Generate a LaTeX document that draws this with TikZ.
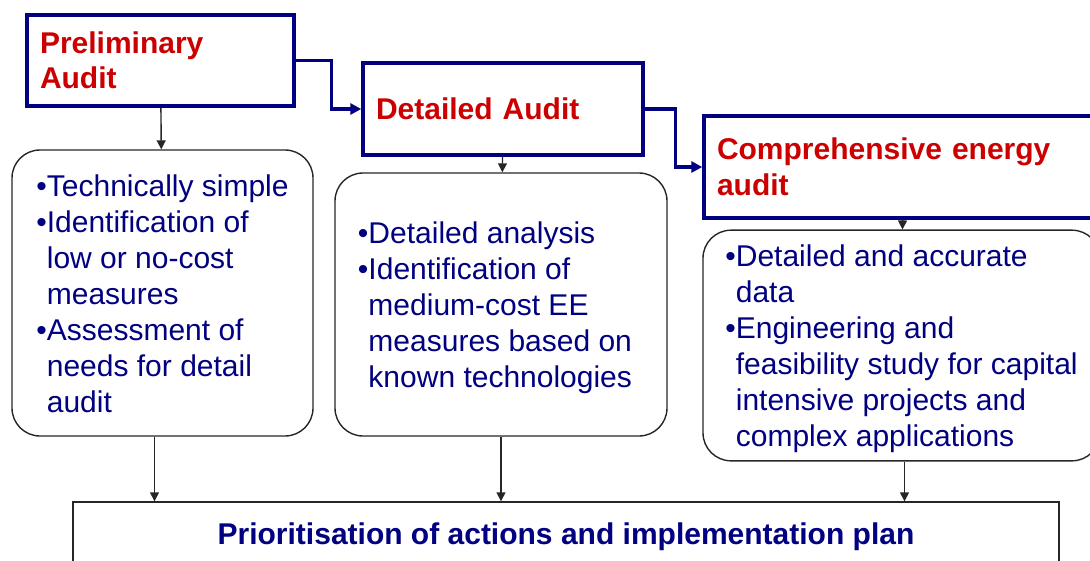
\documentclass[tikz,border=0pt]{standalone}
\usepackage{fontspec}
\setmainfont{Liberation Sans}
\usetikzlibrary{arrows.meta}
\definecolor{navy}{RGB}{0,0,128}
\definecolor{auditred}{RGB}{204,0,0}
\newcommand{\pt}{\textbullet\hspace{2pt}}
\begin{document}
\begin{tikzpicture}[x=1pt,y=-1pt,
        stage/.style={draw=navy,line width=3.4pt,fill=white,inner xsep=13pt,text=auditred,align=left,font=\fontsize{30}{35.5}\selectfont\bfseries},
        info/.style={draw=black!85,line width=1.4pt,rounded corners=28pt,text=navy,font=\fontsize{30}{36}\selectfont},
        flow/.style={navy,line width=3.4pt,-{Triangle[length=11pt,width=11pt]}},
        down/.style={black!85,line width=1.4pt,-{Triangle[length=9pt,width=9pt]}}]
        \useasboundingbox (0,0) rectangle (1090,560);
        \clip (0,0) rectangle (1090,560);
        % the three audit levels
        \node[stage,text width=241pt,minimum height=91pt] (prelim) at (160.5,60.5) {Preliminary\\Audit};
        \node[stage,text width=254pt,minimum height=92pt] (detailed) at (503,109) {Detailed Audit};
        \node[stage,text width=372pt,minimum height=102pt] (comp) at (903,167) {Comprehensive energy\\audit};
        \draw[flow] (prelim.east) -- ++(36,0) |- (detailed.west);
        \draw[flow] (detailed.east) -- ++(31,0) |- (comp.west);
        % what each level covers
        \node[info,minimum width=301pt,minimum height=286pt] (lbox) at (162.5,293) {\begin{tabular}{@{}l@{}l@{}}\noalign{\vskip8pt}
                \pt & Technically simple\\
                \pt & Identification of\\
                & low or no-cost\\
                & measures\\
                \pt & Assessment of\\
                & needs for detail\\
                & audit
            \end{tabular}};
        \node[info,minimum width=332pt,minimum height=263pt] (mbox) at (501,304.5) {\begin{tabular}{@{}l@{}l@{\hspace{12pt}}}\noalign{\vskip8pt}
                \pt & Detailed analysis\\
                \pt & Identification of\\
                & medium-cost EE\\
                & measures based on\\
                & known technologies
            \end{tabular}};
        \node[info,minimum width=397pt,minimum height=227pt] (rbox) at (901.5,345.5) {\begin{tabular}{@{}l@{}l@{}}\noalign{\vskip8pt}
                \pt & Detailed and accurate\\
                & data\\
                \pt & Engineering and\\
                & feasibility study for capital\\
                & intensive projects and\\
                & complex applications
            \end{tabular}};
        \draw[down] (prelim) -- (lbox);
        \draw[down] (detailed) -- (mbox);
        \draw[down] (comp) -- (rbox);
        % common outcome
        \node[draw=black!85,line width=1.4pt,minimum width=986pt,minimum height=70pt,text=navy,font=\fontsize{30}{36}\selectfont\bfseries] (plan) at (566,537) {Prioritisation of actions and implementation plan};
        \draw[down] ([xshift=-8pt]lbox.south) -- ([xshift=-8pt]lbox.south |- plan.north);
        \draw[down] (mbox.south) -- (mbox.south |- plan.north);
        \draw[down] ([xshift=3pt]rbox.south) -- ([xshift=3pt]rbox.south |- plan.north);
    \end{tikzpicture}
\end{document}
